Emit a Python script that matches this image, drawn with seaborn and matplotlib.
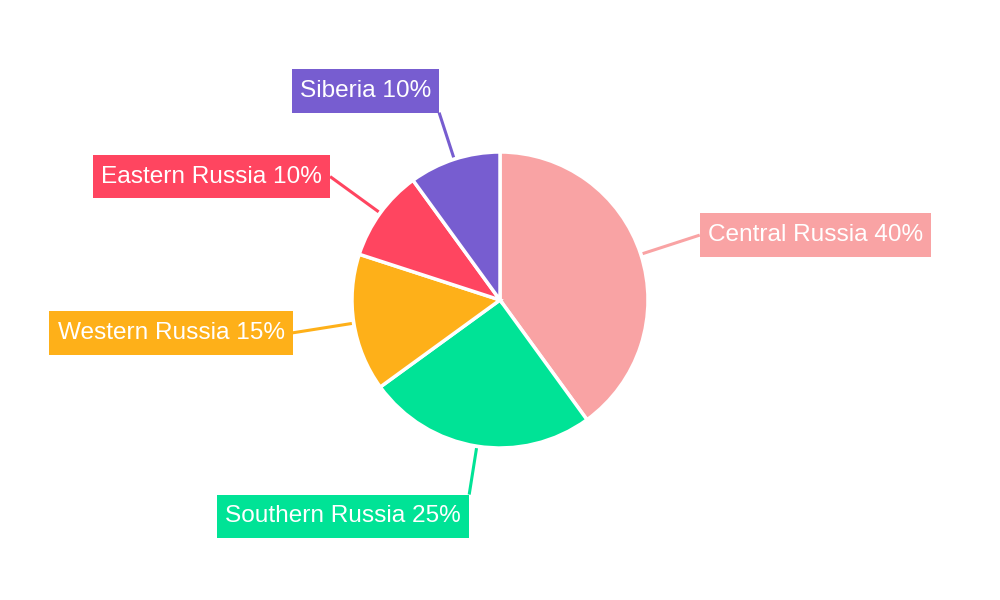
import numpy as np
import matplotlib
matplotlib.use("Agg")
import matplotlib.pyplot as plt
import seaborn as sns

regions = ["Central Russia", "Southern Russia", "Western Russia", "Eastern Russia", "Siberia"]
shares = [40, 25, 15, 10, 10]
colors = ["#F9A3A4", "#00E396", "#FEB019", "#FF4560", "#775DD0"]

sns.set_theme(style="white")
plt.rcParams["font.family"] = ["Liberation Sans", "DejaVu Sans"]
palette = sns.color_palette(colors)

fig = plt.figure(figsize=(10, 6), dpi=100)
ax = fig.add_axes([0, 0, 1, 1])

cx, cy, r = 500, 300, 148
wedges, _ = ax.pie(
    shares,
    colors=palette,
    center=(cx, cy),
    radius=r,
    startangle=90,
    counterclock=False,
    wedgeprops=dict(edgecolor="white", linewidth=2.5),
    frame=True,
)
ax.set_xlim(0, 1000)
ax.set_ylim(0, 600)
ax.set_aspect("equal")
ax.axis("off")

# label boxes: horizontal pad and a taller vertical pad
pad = 0.33
aspect = 1.35
fs = 17.6
for w, name, val, col in zip(wedges, regions, shares, palette):
    ang = np.deg2rad((w.theta1 + w.theta2) / 2)
    c, s = np.cos(ang), np.sin(ang)
    x0, y0 = cx + (r + 2) * c, cy + (r + 2) * s
    if abs(s) > 0.9:
        dist = 197
        va = "bottom" if s > 0 else "top"
    else:
        dist = 210
        va = "center"
    x1, y1 = cx + dist * c, cy + dist * s
    ha = "left" if c > 0 else "right"
    ax.plot([x0, x1], [y0, y1], color=col, lw=2.2, solid_capstyle="butt", zorder=1)
    dx = pad * fs if ha == "left" else -pad * fs
    dy = {"bottom": pad * aspect * fs, "top": -pad * aspect * fs, "center": 0}[va]
    ax.annotate(
        f"{name} {val}%",
        xy=(x1, y1),
        xytext=(dx, dy),
        textcoords="offset points",
        ha=ha,
        va=va,
        fontsize=fs,
        color="white",
        bbox=dict(boxstyle=f"square,pad={pad}", facecolor=col, edgecolor="none",
                  mutation_aspect=aspect),
        zorder=3,
    )

plt.savefig("out.png", dpi=100)
